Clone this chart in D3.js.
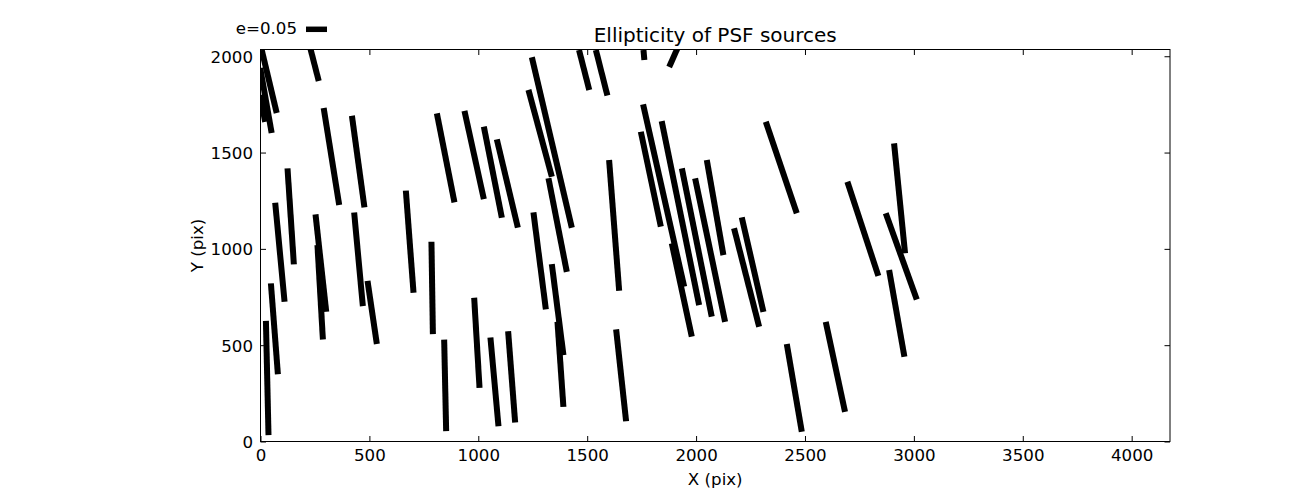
<!DOCTYPE html>
<html>
<head>
<meta charset="utf-8">
<script src="https://cdn.jsdelivr.net/npm/d3@7"></script>
<style>
  html, body { margin: 0; padding: 0; background: #fff; }
  svg { display: block; }
  text { font-family: "DejaVu Sans", sans-serif; fill: #000; }
</style>
</head>
<body>
<svg id="chart" width="1300" height="490"></svg>
<script>
// ---- data (source positions in pix, ellipticity e, position angle theta in degrees) ----
const srcX = [40, 25, 10, 248, 325.7, 448.5, 850.2, 981, 1066.8, 1133.4,
  1337.7, 1284, 1364.3, 1281.7, 1364.3, 1377.2, 89, 138.6, 277.2, 274,
  450, 512.8, 685, 788.2, 63.8, 30.8, 847.9, 993.4, 1074.2, 1153.1,
  1486, 1566.3, 1760.5, 1896.8, 1851, 1792.2, 1928, 2003.3, 2064.4, 2087.3,
  1934.4, 2231.9, 2259.5, 1623.7, 1655.8, 2391.2, 2450.9, 2639.6, 2765.8, 2934.3,
  2942.1, 2921.4];
const srcY = [1869, 1770, 1729, 1957, 1479.5, 1453.5, 1472.7, 1487.3, 1398, 1339.2,
  1552.2, 1600, 1123.6, 937.7, 684.7, 400.5, 982.3, 1168.8, 926.2, 774.6,
  946, 670, 1037, 797.4, 585, 329.8, 291.4, 512.2, 309.6, 335.6,
  1928.8, 1914, 2006.8, 1996.4, 1276.9, 1361.6, 1186, 1032.7, 993.8, 1214.5,
  786, 851, 918.4, 1122, 343.4, 1422.3, 277.9, 387.5, 1103.9, 1262.3,
  961, 665];
const ellip = [0.154, 0.157, 0.065, 0.081, 0.234, 0.220, 0.216, 0.215, 0.221, 0.216,
  0.417, 0.214, 0.227, 0.233, 0.218, 0.203, 0.237, 0.229, 0.233, 0.225,
  0.224, 0.152, 0.244, 0.220, 0.217, 0.272, 0.218, 0.215, 0.212, 0.218,
  0.098, 0.112, 0.024, 0.052, 0.445, 0.231, 0.447, 0.360, 0.349, 0.230,
  0.227, 0.242, 0.231, 0.312, 0.220, 0.230, 0.212, 0.219, 0.236, 0.263,
  0.218, 0.210];
const theta = [103.4, 100.0, 100.5, 104.4, 99.1, 97.8, 101.2, 102.4, 101.2, 103.4,
  103.2, 105.1, 101.1, 97.3, 97.3, 94.0, 95.4, 93.8, 96.3, 93.3,
  95.3, 98.4, 94.3, 90.9, 94.4, 91.3, 91.25, 93.4, 95.2, 94.4,
  104.4, 104.2, 95, 66, 102.7, 101.9, 101.5, 101.4, 101.8, 99.9,
  102.1, 104.3, 102.9, 94.4, 96.2, 108.7, 99.7, 102.1, 108.2, 95.7,
  109.8, 100.0];
const xDomain = [0, 4176];
const yDomain = [0, 2035];
const xTicks = [0, 500, 1000, 1500, 2000, 2500, 3000, 3500, 4000];
const yTicks = [0, 500, 1000, 1500, 2000];
const keyE = 0.05;
const titleText = "Ellipticity of PSF sources";
const xLabel = "X (pix)";
const yLabel = "Y (pix)";

// ---- layout ----
const svg = d3.select("#chart");
const L = 260.5, R = 1170, T = 49.5, B = 441.5;
const xs = d3.scaleLinear().domain(xDomain).range([L, R]);
const ys = d3.scaleLinear().domain(yDomain).range([B, T]);
const eLen = d3.scaleLinear().domain([0, 0.05]).range([0, 21]);

svg.append("defs").append("clipPath").attr("id", "clip")
  .append("rect").attr("x", L).attr("y", T).attr("width", R - L).attr("height", B - T);

const data = srcX.map((x, i) => ({ x, y: srcY[i], e: ellip[i], th: theta[i] }));

svg.append("g").attr("clip-path", "url(#clip)")
  .selectAll("line").data(data).join("line")
  .attr("x1", d => xs(d.x) - eLen(d.e) / 2 * Math.cos(d.th * Math.PI / 180))
  .attr("y1", d => ys(d.y) + eLen(d.e) / 2 * Math.sin(d.th * Math.PI / 180))
  .attr("x2", d => xs(d.x) + eLen(d.e) / 2 * Math.cos(d.th * Math.PI / 180))
  .attr("y2", d => ys(d.y) - eLen(d.e) / 2 * Math.sin(d.th * Math.PI / 180))
  .attr("stroke", "#000").attr("stroke-width", 6).attr("stroke-linecap", "butt");

// axes (ticks inward on all four sides)
const tl = 5.5;
const fontSize = 16.67;
const gb = svg.append("g").attr("transform", `translate(0,${B})`)
  .call(d3.axisBottom(xs).tickValues(xTicks).tickSize(-tl).tickPadding(7.4).tickFormat(d3.format("d")));
const gt = svg.append("g").attr("transform", `translate(0,${T})`)
  .call(d3.axisTop(xs).tickValues(xTicks).tickSize(-tl).tickFormat(""));
const gl = svg.append("g").attr("transform", `translate(${L},0)`)
  .call(d3.axisLeft(ys).tickValues(yTicks).tickSize(-tl).tickPadding(7.5).tickFormat(d3.format("d")));
const gr = svg.append("g").attr("transform", `translate(${R},0)`)
  .call(d3.axisRight(ys).tickValues(yTicks).tickSize(-tl).tickFormat(""));
[gb, gt, gl, gr].forEach(g => {
  g.select(".domain").remove();
  g.selectAll(".tick line").attr("stroke", "#000").attr("stroke-width", 1);
  g.selectAll("text").attr("font-family", "DejaVu Sans").attr("font-size", fontSize).attr("fill", "#000");
});
gb.selectAll("text").attr("dy", "0.71em");
gl.selectAll("text").attr("dy", "0.36em");

svg.append("rect").attr("x", L).attr("y", T).attr("width", R - L).attr("height", B - T)
  .attr("fill", "none").attr("stroke", "#000").attr("stroke-width", 1);

// labels
svg.append("text").attr("x", (L + R) / 2).attr("y", 485).attr("text-anchor", "middle")
  .attr("font-size", fontSize).text(xLabel);
svg.append("text").attr("transform", `translate(203,${(T + B) / 2}) rotate(-90)`)
  .attr("text-anchor", "middle").attr("font-size", fontSize).text(yLabel);
svg.append("text").attr("x", (L + R) / 2).attr("y", 42).attr("text-anchor", "middle")
  .attr("font-size", 20).text(titleText);

// key
svg.append("text").attr("x", 297).attr("y", 34).attr("text-anchor", "end")
  .attr("font-size", fontSize).text("e=" + keyE.toFixed(2));
svg.append("line").attr("x1", 306).attr("x2", 306 + eLen(keyE))
  .attr("y1", 29.3).attr("y2", 29.3).attr("stroke", "#000").attr("stroke-width", 5.5);
</script>
</body>
</html>
